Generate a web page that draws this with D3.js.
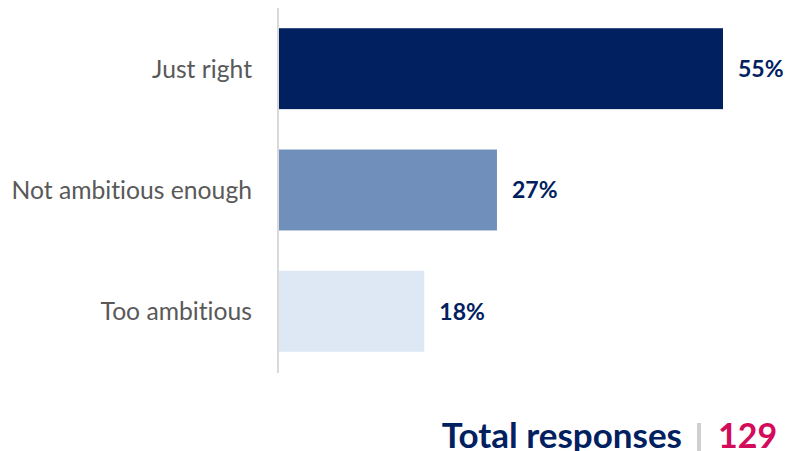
<!DOCTYPE html>
<html>
<head>
<meta charset="utf-8">
<script src="https://cdn.jsdelivr.net/npm/d3@7"></script>
<style>
  html, body { margin: 0; padding: 0; background: #fff; }
  svg { display: block; }
  text { font-variant-ligatures: none; font-feature-settings: "liga" 0, "clig" 0; }
</style>
</head>
<body>
<svg id="chart" width="787" height="451"></svg>
<script>
// Survey answers, share of respondents (%)
const categories = ["Just right", "Not ambitious enough", "Too ambitious"];
const values = [55, 27, 18];
const barColors = ["#002060", "#7090BB", "#DEE8F4"];
const totalLabel = "Total responses";
const totalCount = "129";

const svg = d3.select("#chart");
const FONT = "Lato, 'Open Sans', sans-serif";

const x = d3.scaleLinear().domain([0, 55]).range([279, 723]);
const y = d3.scaleBand().domain(categories).range([8, 372])
  .paddingInner(0.333).paddingOuter(0.1667);

// bars
svg.append("g").selectAll("rect")
  .data(categories)
  .join("rect")
  .attr("x", x(0))
  .attr("y", d => y(d))
  .attr("width", (d, i) => x(values[i]) - x(0))
  .attr("height", y.bandwidth())
  .attr("fill", (d, i) => barColors[i]);

// category axis
const yAxis = svg.append("g")
  .attr("transform", `translate(${x(0) - 1},0)`)
  .call(d3.axisLeft(y).tickSize(0).tickPadding(26));
yAxis.select(".domain")
  .attr("d", `M0,8V373`)
  .attr("stroke", "#D9D9D9")
  .attr("stroke-width", 2);
yAxis.selectAll("text")
  .attr("fill", "#595959")
  .attr("dy", "0.36em")
  .style("font-family", FONT)
  .style("font-size", "24.7px");

// value labels
svg.append("g").selectAll("text")
  .data(categories)
  .join("text")
  .attr("x", (d, i) => x(values[i]) + 15)
  .attr("y", d => y(d) + y.bandwidth() / 2)
  .attr("dy", "0.36em")
  .attr("fill", "#002060")
  .style("font-family", FONT)
  .style("font-weight", "700")
  .style("font-size", "23px")
  .text((d, i) => values[i] + "%");

// total responses footer
const foot = svg.append("g");
foot.append("text")
  .attr("x", 682).attr("y", 448)
  .attr("text-anchor", "end")
  .attr("fill", "#002060")
  .style("font-family", FONT)
  .style("font-weight", "700")
  .style("font-size", "35px")
  .text(totalLabel);
foot.append("rect")
  .attr("x", 697).attr("y", 423)
  .attr("width", 4).attr("height", 28)
  .attr("fill", "#CFCFCF");
foot.append("text")
  .attr("x", 718).attr("y", 448)
  .attr("fill", "#D40A5B")
  .style("font-family", FONT)
  .style("font-weight", "700")
  .style("font-size", "34px")
  .text(totalCount);
</script>
</body>
</html>
